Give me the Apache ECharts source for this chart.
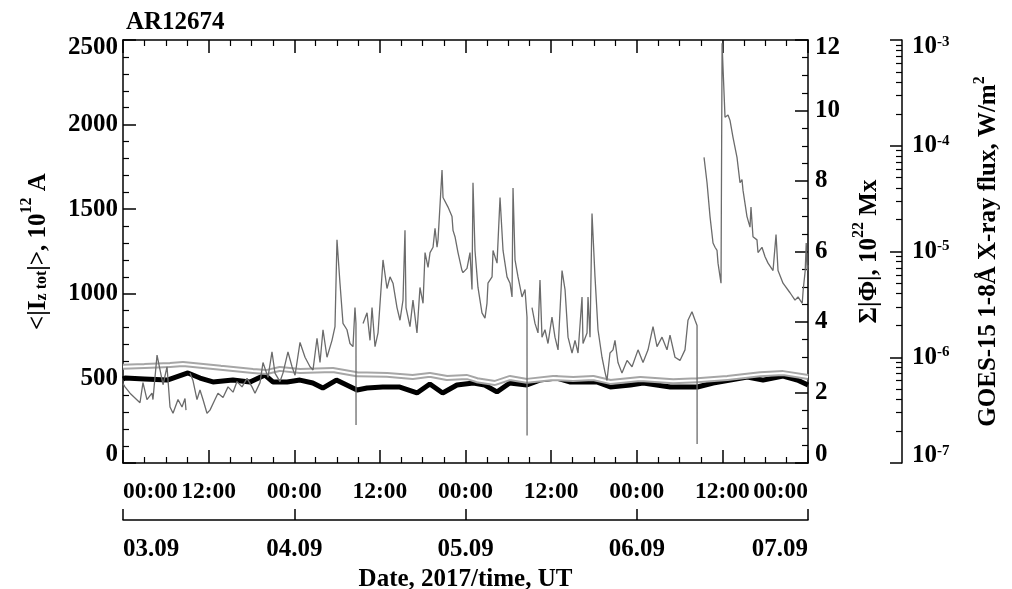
<!DOCTYPE html>
<html><head><meta charset="utf-8">
<script src="https://cdn.jsdelivr.net/npm/echarts@6/dist/echarts.min.js"></script>
<style>html,body{margin:0;padding:0;background:#fff}#c{width:1012px;height:589px}</style>
</head><body><div id="c"></div>
<script>
// ---- data (hours from 03.09.2017 00:00 UT) ----
const timeTickLabels = ['00:00', '12:00'];
const dateLabels = ['03.09', '04.09', '05.09', '06.09', '07.09'];
const goesDecades = [-7, -6, -5, -4, -3];

// <|Iz tot|>, 10^12 A  (black thick line, left axis)
const izHours  = [0, 0.3, 3, 6.2, 9.1, 10.8, 12.6, 15.4, 17.8, 19.9, 21.0, 23.0, 24.8, 26.6, 28.0, 29.9, 32.8, 34.2, 36.4, 38.8, 41.2, 43.0, 44.8, 46.8, 49.1, 50.7, 52.4, 54.2, 56.6, 58.4, 60.8, 62.6, 66.4, 68.3, 71.1, 72.9, 76.7, 80.5, 82.7, 85.1, 87.5, 89.7, 92.5, 94.5, 96];
const izValues = [496, 502, 497, 490, 532, 502, 479, 490, 479, 520, 479, 479, 490, 473, 443, 490, 431, 443, 449, 449, 414, 467, 414, 461, 473, 461, 420, 473, 461, 490, 502, 479, 479, 449, 461, 473, 449, 449, 473, 490, 508, 490, 514, 490, 461];

// Sum|Phi|, 10^22 Mx  (light grey double line, right axis)
const phiHours  = [0, 3, 6.6, 8.4, 13.7, 18.2, 20.1, 22.0, 24.8, 29.4, 32.8, 37.0, 40.6, 43.0, 45.4, 48.2, 49.6, 52.1, 54.2, 56.6, 60.3, 63.1, 65.9, 68.3, 72.5, 77.1, 80.5, 84.7, 89.3, 92.5, 96];
const phiValues = [2.73, 2.75, 2.78, 2.81, 2.70, 2.61, 2.58, 2.67, 2.61, 2.64, 2.52, 2.50, 2.44, 2.50, 2.41, 2.44, 2.35, 2.27, 2.41, 2.33, 2.41, 2.38, 2.41, 2.30, 2.38, 2.32, 2.35, 2.41, 2.52, 2.55, 2.44];

// GOES-15 1-8 A X-ray flux: [hour, log10(flux W/m^2)], null = data gap
const goesLog10Flux = [
 [0,-6.25],[0.28,-6.28],[0.98,-6.34],[2.38,-6.43],[2.80,-6.24],[3.36,-6.40],[4.06,-6.34],[4.20,-6.40],[4.77,-5.98],[5.19,-6.12],
 [5.61,-6.26],[6.17,-6.09],[6.59,-6.47],[7.01,-6.53],[7.71,-6.40],[8.27,-6.47],[8.69,-6.39],[8.83,-6.50],[9.1,null],[9.39,-6.15],
 [9.81,-6.22],[10.37,-6.40],[10.79,-6.31],[11.21,-6.40],[11.77,-6.53],[12.19,-6.50],[12.89,-6.40],[13.31,-6.34],[14.02,-6.38],[14.72,-6.28],
 [15.42,-6.33],[15.98,-6.23],[16.68,-6.28],[17.38,-6.20],[18.08,-6.28],[18.50,-6.34],[19.20,-6.24],[19.62,-6.05],[20.32,-6.19],[20.88,-5.95],
 [21.30,-6.15],[22.00,-6.23],[22.42,-6.15],[23.12,-5.95],[23.69,-6.09],[24.11,-6.17],[24.81,-5.86],[25.51,-6.00],[26.21,-6.09],[26.63,-6.12],
 [27.19,-5.82],[27.61,-6.05],[28.03,-5.74],[28.59,-6.00],[29.29,-5.84],[29.71,-5.71],[29.99,-4.89],[30.41,-5.30],[30.83,-5.68],[31.39,-5.74],
 [31.81,-5.87],[32.23,-5.90],[32.51,-5.53],[32.65,-5.68],[32.66,-6.64],[33.0,null],[33.64,-5.68],[34.20,-5.58],[34.62,-5.84],[34.90,-5.53],
 [35.32,-5.90],[35.74,-5.77],[36.44,-5.08],[37.00,-5.35],[37.42,-5.24],[37.84,-5.30],[38.40,-5.53],[38.82,-5.65],[39.24,-5.46],[39.52,-4.80],
 [39.66,-5.53],[40.22,-5.71],[40.64,-5.46],[41.20,-5.77],[41.62,-5.34],[42.05,-5.49],[42.33,-5.01],[42.75,-5.15],[43.03,-5.01],[43.45,-4.96],
 [43.73,-4.78],[44.01,-4.96],[44.15,-4.89],[44.71,-4.23],[44.85,-4.49],[45.55,-4.58],[46.11,-4.67],[46.25,-4.80],[46.53,-4.86],[46.95,-5.01],
 [47.51,-5.18],[47.65,-5.20],[48.21,-5.16],[48.63,-5.01],[48.91,-5.36],[49.05,-4.35],[49.33,-4.99],[49.75,-5.34],[50.31,-5.58],[50.73,-5.63],
 [51.01,-5.49],[51.15,-5.30],[51.72,-5.24],[51.86,-4.99],[52.42,-5.11],[52.84,-4.49],[53.26,-4.99],[53.82,-5.24],[54.24,-5.30],[54.52,-5.43],
 [54.66,-4.40],[54.94,-5.08],[55.36,-5.24],[55.92,-5.43],[56.34,-5.36],[56.62,-5.62],[56.63,-6.74],[57.0,null],[57.32,-5.53],[57.74,-5.68],
 [58.16,-5.77],[58.44,-5.27],[58.72,-5.81],[59.14,-5.74],[59.56,-5.87],[60.12,-5.62],[60.54,-5.81],[60.97,-5.93],[61.53,-5.18],[61.95,-5.36],
 [62.37,-5.81],[62.93,-5.96],[63.35,-5.84],[63.77,-5.96],[64.33,-5.43],[64.47,-5.87],[65.03,-5.77],[65.17,-5.43],[65.45,-5.81],[65.73,-4.64],
 [66.15,-5.24],[66.57,-5.74],[67.13,-6.00],[67.55,-6.14],[67.83,-6.22],[68.25,-5.96],[68.67,-5.93],[68.95,-5.84],[69.37,-6.05],[69.93,-6.15],
 [70.64,-6.03],[71.34,-6.09],[72.18,-5.93],[72.88,-6.05],[73.58,-5.93],[74.28,-5.71],[74.84,-5.90],[75.54,-5.81],[76.24,-5.93],[76.66,-5.79],
 [77.36,-6.00],[78.06,-6.03],[78.76,-5.93],[79.18,-5.65],[79.74,-5.57],[80.17,-5.65],[80.45,-5.70],[80.46,-6.82],[81.0,null],[81.43,-4.11],
 [81.85,-4.35],[82.27,-4.67],[82.69,-4.92],[82.97,-4.96],[83.25,-4.99],[83.39,-5.11],[83.81,-5.30],[83.96,-3.03],[84.09,-3.26],[84.37,-3.73],
 [84.79,-3.71],[85.07,-3.76],[85.49,-3.92],[86.05,-4.11],[86.47,-4.35],[86.75,-4.32],[86.89,-4.42],[87.45,-4.67],[87.87,-4.77],[88.01,-4.58],
 [88.29,-4.86],[88.85,-4.89],[88.99,-5.01],[89.55,-4.96],[89.98,-5.05],[90.40,-5.11],[91.10,-5.18],[91.52,-4.84],[91.80,-5.18],[92.50,-5.30],
 [93.48,-5.39],[94.18,-5.46],[94.60,-5.43],[95.19,-5.49],[95.33,-5.36],[95.61,-5.18],[95.75,-4.92],[95.89,-5.18],[96,-5.13]
];

// ---- chart ----
const FONT = 'Liberation Serif';
const txt = {fontFamily: FONT, fontSize: 25, fontWeight: 'bold', color: '#000'};
const axLine = {show: true, onZero: false, lineStyle: {color: '#000', width: 1.5}};
const majTick = (len) => ({show: true, inside: true, length: len, lineStyle: {color: '#000', width: 1.5}});
const minTick = (n, len) => ({show: true, splitNumber: n, length: len, lineStyle: {color: '#000', width: 1.2}});

const minorLogTicks = [];
goesDecades.slice(0, -1).forEach(d => { for (let k = 2; k <= 9; k++) minorLogTicks.push(d + Math.log10(k)); });

const F = {fontFamily: FONT, fontWeight: 'bold', color: '#000'};
const mkNameRich = (supRaise) => ({
  n: {...F, fontSize: 25, lineHeight: 25},
  sup: {...F, fontSize: 16, lineHeight: 14, padding: [0, 0, supRaise, 0]},
  sub: {...F, fontSize: 16, lineHeight: 14, padding: [8, 0, 0, 0]}
});
const rb = {...F, fontSize: 25, lineHeight: 25};
const rs = {...F, fontSize: 15, lineHeight: 15};
const logLabelRich = {
  b: rb, s: {...rs, padding: [0, 0, 10, 0]},
  bMin: {...rb, padding: [0, 0, 14, 0]}, sMin: {...rs, padding: [0, 0, 24, 0]},
  bMax: {...rb, padding: [14, 0, 0, 0]}, sMax: {...rs, padding: [14, 0, 10, 0]}
};

const option = {
  animation: false,
  backgroundColor: '#fff',
  title: {text: 'AR12674', left: 121, top: 5, textStyle: {...txt}},
  grid: {left: 123, right: 204, top: 40, bottom: 126, containLabel: false, outerBoundsMode: 'none'},
  xAxis: [
    {type: 'value', position: 'bottom', min: 0, max: 96, interval: 12,
     axisLine: axLine, axisTick: majTick(13), minorTick: minTick(4, 6), splitLine: {show: false},
     axisLabel: {...txt, fontSize: 23.5, margin: 17, showMinLabel: true, showMaxLabel: true, hideOverlap: false,
       alignMinLabel: 'left', alignMaxLabel: 'right',
       formatter: v => timeTickLabels[(v / 12) % 2]}},
    {type: 'value', position: 'top', min: 0, max: 96, interval: 12,
     axisLine: axLine, axisTick: majTick(13), minorTick: minTick(4, 6), splitLine: {show: false},
     axisLabel: {show: false}},
    {type: 'value', position: 'bottom', offset: 57, min: 0, max: 96, interval: 24,
     axisLine: axLine, axisTick: majTick(11), splitLine: {show: false},
     axisLabel: {...txt, margin: 17, showMinLabel: true, showMaxLabel: true,
       alignMinLabel: 'left', alignMaxLabel: 'right',
       formatter: v => dateLabels[v / 24]},
     name: 'Date, 2017/time, UT', nameLocation: 'middle', nameGap: 38, nameTextStyle: {...txt}}
  ],
  yAxis: [
    {type: 'value', position: 'left', min: 0, max: 2500, interval: 500,
     axisLine: axLine, axisTick: majTick(13), minorTick: minTick(5, 6), splitLine: {show: false},
     axisLabel: {...txt, margin: 5, lineHeight: 16, showMinLabel: true, showMaxLabel: true,
       verticalAlignMinLabel: 'bottom', verticalAlignMaxLabel: 'top', formatter: v => String(v)},
     name: '{n|<|I}{sub|z tot}{n||>, 10}{sup|12}{n| A}', nameLocation: 'middle', nameRotate: 90, nameGap: 62,
     nameTextStyle: {...txt, rich: mkNameRich(22)}},
    {type: 'value', position: 'right', min: 0, max: 12, interval: 2,
     axisLine: axLine, axisTick: majTick(13), minorTick: minTick(4, 6), splitLine: {show: false},
     axisLabel: {...txt, margin: 7, lineHeight: 16, showMinLabel: true, showMaxLabel: true,
       verticalAlignMinLabel: 'bottom', verticalAlignMaxLabel: 'top', formatter: v => String(v)},
     name: '{n|\u03A3|\u03A6|, 10}{sup|22}{n| Mx}', nameLocation: 'middle', nameRotate: 90, nameGap: 33,
     nameTextStyle: {...txt, rich: mkNameRich(22)}},
    {type: 'value', position: 'right', offset: 94, min: -7, max: -3, interval: 1,
     axisLine: axLine, axisTick: majTick(12), splitLine: {show: false},
     axisLabel: {...txt, margin: 10, showMinLabel: true, showMaxLabel: true,
       formatter: v => v === goesDecades[0] ? '{bMin|10}{sMin|' + v + '}'
         : v === goesDecades[goesDecades.length - 1] ? '{bMax|10}{sMax|' + v + '}'
         : '{b|10}{s|' + v + '}',
       rich: logLabelRich},
     name: 'GOES-15 1-8\u00C5 X-ray flux, W/m{sup|2}', nameLocation: 'middle', nameRotate: 90, nameGap: 74,
     nameTextStyle: {...txt, rich: mkNameRich(18)}},
    {type: 'value', position: 'right', offset: 94, min: -7, max: -3,
     axisLine: {show: false, onZero: false}, splitLine: {show: false}, axisLabel: {show: false},
     axisTick: {show: true, inside: true, length: 6, customValues: minorLogTicks, lineStyle: {color: '#000', width: 1.2}}}
  ],
  series: [
    {type: 'line', name: 'Iz', xAxisIndex: 0, yAxisIndex: 0, showSymbol: false, z: 2,
     lineStyle: {color: '#000', width: 5}, data: izHours.map((h, i) => [h, izValues[i]])},
    {type: 'line', name: 'Phi', xAxisIndex: 0, yAxisIndex: 1, showSymbol: false, z: 3,
     lineStyle: {color: '#a6a6a6', width: 6}, data: phiHours.map((h, i) => [h, phiValues[i]])},
    {type: 'line', name: 'PhiInner', xAxisIndex: 0, yAxisIndex: 1, showSymbol: false, z: 4,
     lineStyle: {color: '#fff', width: 2}, data: phiHours.map((h, i) => [h, phiValues[i]])},
    {type: 'line', name: 'GOES', xAxisIndex: 0, yAxisIndex: 2, showSymbol: false, z: 5, connectNulls: false,
     lineStyle: {color: '#6b6b6b', width: 1.3}, data: goesLog10Flux}
  ]
};
const chart = echarts.init(document.getElementById('c'), null, {renderer: 'canvas'});
chart.setOption(option);
</script></body></html>
